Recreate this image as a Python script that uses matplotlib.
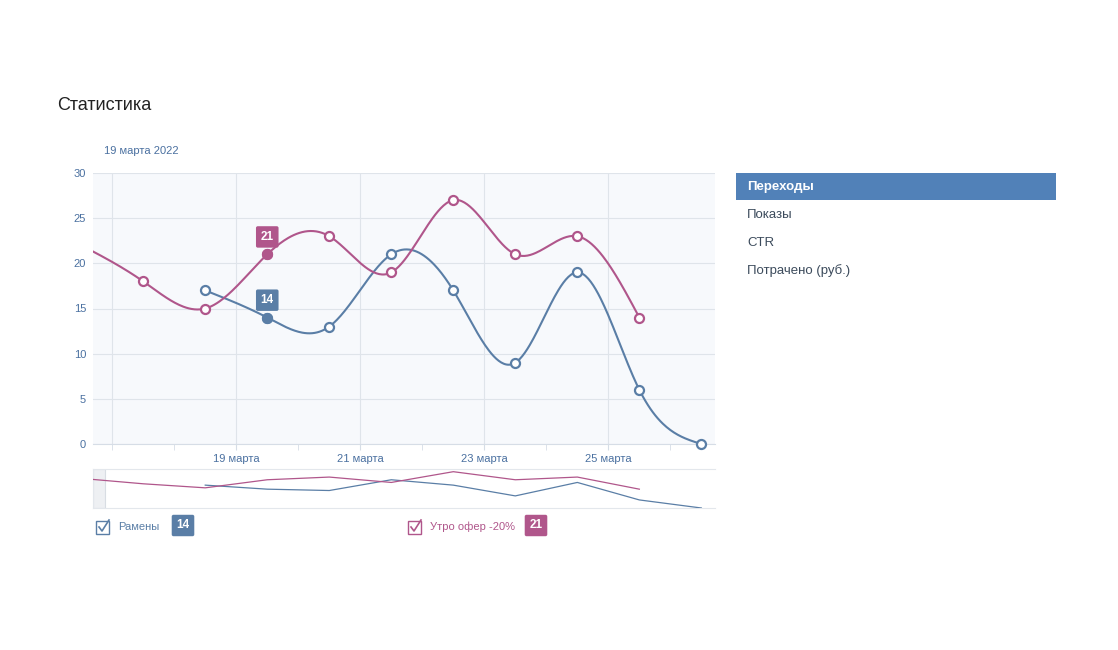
import numpy as np
import matplotlib.pyplot as plt
from matplotlib.patches import Rectangle

plt.rcParams['font.family'] = ['Liberation Sans', 'DejaVu Sans']

# data (day of March, points at midday)
days_blue = [18.5, 19.5, 20.5, 21.5, 22.5, 23.5, 24.5, 25.5, 26.5]
vals_blue = [17, 14, 13, 21, 17, 9, 19, 6, 0]
days_red = [16.5, 17.5, 18.5, 19.5, 20.5, 21.5, 22.5, 23.5, 24.5, 25.5]
vals_red = [22, 18, 15, 21, 23, 19, 27, 21, 23, 14]
tick_days = [19, 21, 23, 25]
tick_labels = ['19 марта', '21 марта', '23 марта', '25 марта']
menu_items = ['Переходы', 'Показы', 'CTR', 'Потрачено (руб.)']
series_names = ['Рамены', 'Утро офер -20%']
sel_day = 19.5

BLUE = '#5a7ea6'
RED = '#b0568b'
TXT = '#4a70a0'


def spline(x, y, n=400):
    # natural cubic spline
    x = np.asarray(x, float)
    y = np.asarray(y, float)
    k = len(x)
    h = np.diff(x)
    A = np.zeros((k, k))
    b = np.zeros(k)
    A[0, 0] = A[-1, -1] = 1
    for i in range(1, k - 1):
        A[i, i - 1] = h[i - 1]
        A[i, i] = 2 * (h[i - 1] + h[i])
        A[i, i + 1] = h[i]
        b[i] = 3 * ((y[i + 1] - y[i]) / h[i] - (y[i] - y[i - 1]) / h[i - 1])
    c = np.linalg.solve(A, b)
    xs = np.linspace(x[0], x[-1], n)
    ys = np.empty_like(xs)
    for j, xv in enumerate(xs):
        i = min(np.searchsorted(x, xv, side='right') - 1, k - 2)
        d = xv - x[i]
        bb = (y[i + 1] - y[i]) / h[i] - h[i] * (2 * c[i] + c[i + 1]) / 3
        dd = (c[i + 1] - c[i]) / (3 * h[i])
        ys[j] = y[i] + bb * d + c[i] * d ** 2 + dd * d ** 3
    return xs, ys


fig = plt.figure(figsize=(11.18, 6.5), dpi=100)
W, H = 1118, 650


def box(l, t, r, b):
    return [l / W, 1 - b / H, (r - l) / W, (b - t) / H]


xlim = (16.69, 26.72)
badge = dict(boxstyle='round,pad=0.4,rounding_size=0.15', ec='none')

ax = fig.add_axes(box(93, 173, 715, 444))
ax.set_facecolor('#f7f9fc')
ax.set_xlim(xlim)
ax.set_ylim(0, 30)
for s in ['top', 'right', 'left']:
    ax.spines[s].set_visible(False)
ax.spines['bottom'].set_color('#d6dde6')
ax.set_yticks(range(0, 31, 5))
ax.set_xticks(tick_days)
ax.set_xticklabels(tick_labels)
ax.set_xticks([17, 18, 20, 22, 24, 26], minor=True)
ax.tick_params(axis='y', length=0, pad=5, labelsize=8, labelcolor=TXT)
ax.tick_params(axis='x', which='both', length=4, color='#d6dde6', pad=3, labelsize=8, labelcolor=TXT)
ax.grid(True, color='#dfe4ea', lw=0.8)
ax.axvline(17, color='#dfe4ea', lw=0.8, zorder=0)
ax.set_axisbelow(True)

for dx, vy, col in [(days_blue, vals_blue, BLUE), (days_red, vals_red, RED)]:
    xs, ys = spline(dx, vy)
    ax.plot(xs, ys, color=col, lw=1.5, zorder=3)
    mx = [d for d in dx if xlim[0] <= d <= xlim[1]]
    my = [v for d, v in zip(dx, vy) if xlim[0] <= d <= xlim[1]]
    ax.plot(mx, my, 'o', ms=6.5, mfc='white', mec=col, mew=1.6, zorder=4, clip_on=False)
    sy = vy[dx.index(sel_day)]
    ax.plot([sel_day], [sy], 'o', ms=7, color=col, zorder=5)
    ax.annotate(str(sy), (sel_day, sy), xytext=(0, 12.5), textcoords='offset points',
                ha='center', va='center', color='white', fontsize=8.5, fontweight='bold',
                bbox=dict(badge, fc=col), zorder=6)

fig.text(57 / W, 1 - 105 / H, 'Статистика', fontsize=13, color='#222222', va='center')
fig.text(104 / W, 1 - 151 / H, '19 марта 2022', fontsize=8, color=TXT, va='center')

# navigator
nav = fig.add_axes(box(93, 469, 715, 508))
nav.set_xlim(xlim)
nav.set_ylim(0, 29)
nav.set_xticks([])
nav.set_yticks([])
for s in nav.spines.values():
    s.set_color('#e3e7ec')
nav.spines['right'].set_visible(False)
nav.add_patch(Rectangle((0, 0), 12 / 622, 1, transform=nav.transAxes,
                        fc='#eef0f3', ec='#d8dde3', lw=0.8, zorder=1))
nav.plot(days_blue, vals_blue, color=BLUE, lw=0.9, zorder=3)
nav.plot(days_red, vals_red, color=RED, lw=0.9, zorder=3)

# legend
for xl, name, col, val, off in [(96, series_names[0], BLUE, vals_blue[1], 87),
                                (408, series_names[1], RED, vals_red[3], 128)]:
    fig.patches.append(Rectangle((xl / W, 1 - 534 / H), 13 / W, 13 / H,
                                 transform=fig.transFigure, fc='white', ec=col, lw=1.0))
    fig.lines.append(plt.Line2D([(xl + 3) / W, (xl + 6) / W, (xl + 13) / W],
                                [1 - 527 / H, 1 - 531 / H, 1 - 520 / H],
                                transform=fig.transFigure, color=col, lw=1.2))
    fig.text((xl + 22) / W, 1 - 527 / H, name, fontsize=8, color=col, va='center')
    fig.text((xl + off) / W, 1 - 525.5 / H, str(val), fontsize=8.5, color='white',
             fontweight='bold', va='center', ha='center', bbox=dict(badge, fc=col))

# right menu
fig.patches.append(Rectangle((736 / W, 1 - 200 / H), 320 / W, 27 / H,
                             transform=fig.transFigure, fc='#5181b8', ec='none'))
fig.text(747 / W, 1 - 187 / H, menu_items[0], fontsize=9.5, color='white',
         fontweight='bold', va='center')
for i, item in enumerate(menu_items[1:]):
    fig.text(747 / W, 1 - (215 + 28 * i) / H, item, fontsize=9.5, color='#3c4b5c', va='center')

fig.savefig('out.png', dpi=100, facecolor='white')
